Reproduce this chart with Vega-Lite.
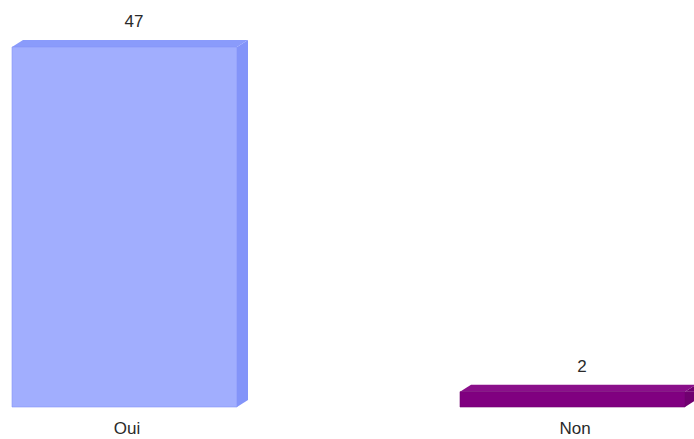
{
  "$schema": "https://vega.github.io/schema/vega-lite/v6.json",
  "width": 694,
  "height": 439,
  "autosize": "none",
  "padding": 0,
  "background": "white",
  "config": {"view": {"stroke": null}},
  "data": {"values": [
    {"answer": "Oui", "count": 47},
    {"answer": "Non", "count": 2}
  ]},
  "encoding": {
    "x": {"field": "answer", "type": "nominal", "sort": null,
      "scale": {"domain": ["Oui", "Non"], "range": [12, 685], "paddingInner": 0.4978, "paddingOuter": 0},
      "axis": null}
  },
  "layer": [
    {
      "mark": {"type": "bar", "width": 11, "xOffset": 118, "y2Offset": -7},
      "encoding": {
        "y": {"field": "count", "type": "quantitative", "scale": {"domain": [0, 47], "range": [407, 47], "nice": false}, "axis": null},
        "y2": {"datum": 0},
        "color": {"field": "answer", "type": "nominal", "scale": {"domain": ["Oui", "Non"], "range": ["#8394f9", "#700070"]}, "legend": null}
      }
    },
    {
      "mark": {"type": "point", "shape": "M0,0 L11,-7 L11,0 Z", "size": 4, "filled": true, "opacity": 1, "strokeWidth": 0, "xOffset": 112.5},
      "encoding": {
        "y": {"field": "count", "type": "quantitative"},
        "color": {"field": "answer", "type": "nominal", "scale": {"domain": ["Oui", "Non"], "range": ["#8394f9", "#700070"]}, "legend": null}
      }
    },
    {
      "mark": {"type": "point", "shape": "M0,-7 L0,0 L11,-7 Z", "size": 4, "filled": true, "opacity": 1, "strokeWidth": 0, "xOffset": 112.5},
      "encoding": {
        "y": {"datum": 0, "type": "quantitative"},
        "color": {"field": "answer", "type": "nominal", "scale": {"domain": ["Oui", "Non"], "range": ["#8394f9", "#700070"]}, "legend": null}
      }
    },
    {
      "mark": {"type": "point", "shape": "M0,0 L225,0 L236,-7 L11,-7 Z", "size": 4, "filled": true, "opacity": 1, "strokeWidth": 0, "xOffset": -112.5},
      "encoding": {
        "y": {"field": "count", "type": "quantitative"},
        "color": {"field": "answer", "type": "nominal", "scale": {"domain": ["Oui", "Non"], "range": ["#8a9bfb", "#8a0f8a"]}, "legend": null}
      }
    },
    {
      "mark": {"type": "bar", "strokeWidth": 0.6},
      "encoding": {
        "y": {"field": "count", "type": "quantitative"},
        "y2": {"datum": 0},
        "color": {"field": "answer", "type": "nominal", "scale": {"domain": ["Oui", "Non"], "range": ["#a1aefe", "#800080"]}, "legend": null},
        "stroke": {"field": "answer", "type": "nominal", "scale": {"domain": ["Oui", "Non"], "range": ["#8394f9", "#700070"]}, "legend": null}
      }
    },
    {
      "mark": {"type": "text", "font": "Liberation Sans", "fontSize": 17, "color": "#2a2a2a", "baseline": "middle", "dy": -25, "xOffset": 9.5},
      "encoding": {
        "y": {"field": "count", "type": "quantitative"},
        "text": {"field": "count", "type": "quantitative"}
      }
    },
    {
      "mark": {"type": "text", "font": "Liberation Sans", "fontSize": 17, "color": "#2a2a2a", "baseline": "middle", "dy": 22, "xOffset": 2.5},
      "encoding": {
        "y": {"datum": 0, "type": "quantitative"},
        "text": {"field": "answer", "type": "nominal"}
      }
    }
  ],
  "resolve": {"scale": {"color": "independent", "stroke": "independent"}}
}
